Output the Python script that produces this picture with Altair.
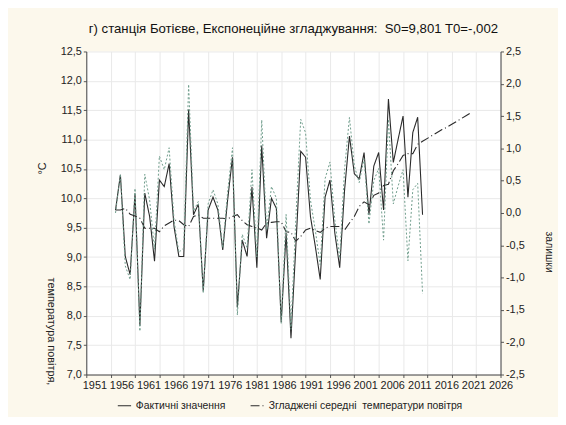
import altair as alt
import pandas as pd

# ---- data ----
years = list(range(1957, 2021))
actual = [9.80, 10.40, 9.01, 8.70, 10.08, 7.83, 10.09, 9.69, 8.93, 10.31,
          10.20, 10.59, 9.52, 9.01, 9.01, 11.51, 9.72, 9.90, 8.42, 9.80,
          10.02, 9.80, 9.12, 9.97, 10.70, 8.14, 9.29, 9.01, 10.19, 8.82,
          10.90, 9.32, 10.00, 9.83, 7.89, 9.41, 7.62, 9.18, 10.80, 10.70,
          9.69, 9.18, 8.62, 10.02, 10.31, 9.41, 8.82, 10.14, 11.06, 10.42,
          10.33, 10.78, 9.72, 10.55, 10.78, 9.80, 11.69, 10.61, 11.01, 11.40,
          10.02, 11.12, 11.38, 9.72]
smoothed = [9.80, 9.80, 9.83, 9.73, 9.70, 9.66, 9.49, 9.49, 9.49, 9.43,
            9.53, 9.58, 9.63, 9.62, 9.55, 9.52, 9.69, 9.72, 9.66, 9.66,
            9.66, 9.66, 9.66, 9.65, 9.69, 9.72, 9.62, 9.55, 9.52, 9.50,
            9.46, 9.58, 9.59, 9.60, 9.60, 9.43, 9.42, 9.27, 9.35, 9.46,
            9.49, 9.45, 9.42, 9.49, 9.52, 9.52, 9.52, 9.46, 9.58, 9.69,
            9.86, 9.94, 9.89, 10.05, 10.09, 10.22, 10.24, 10.47, 10.59, 10.73,
            10.76, 10.76, 10.92, 10.97]
forecast_years = list(range(2021, 2031))
forecast = [11.02, 11.07, 11.12, 11.17, 11.21, 11.26, 11.31, 11.36, 11.41, 11.46]
residuals = [0.00, 0.60, -0.82, -1.03, 0.38, -1.83, 0.60, 0.20, -0.56, 0.88,
             0.67, 1.01, -0.11, -0.61, -0.54, 1.99, 0.03, 0.18, -1.24, 0.14,
             0.36, 0.14, -0.54, 0.32, 1.01, -1.58, -0.33, -0.54, 0.67, -0.68,
             1.44, -0.26, 0.41, 0.23, -1.71, -0.02, -1.80, -0.09, 1.45, 1.24,
             0.20, -0.27, -0.80, 0.53, 0.79, -0.11, -0.70, 0.68, 1.48, 0.73,
             0.47, 0.84, -0.17, 0.50, 0.69, -0.42, 1.45, 0.14, 0.42, 0.67,
             -0.74, 0.36, 0.46, -1.25]
label_years = [1951, 1956, 1961, 1966, 1971, 1976, 1981, 1986, 1991, 1996,
               2001, 2006, 2011, 2016, 2021, 2026]
grid_years = [1951, 1956, 1961, 1966, 1971, 1976, 1981, 1986, 1991, 1996,
              2001, 2006, 2011, 2016, 2021, 2026, 2031, 2036]
left_ticks = [7.0, 7.5, 8.0, 8.5, 9.0, 9.5, 10.0, 10.5, 11.0, 11.5, 12.0, 12.5]
right_ticks = [-2.5, -2.0, -1.5, -1.0, -0.5, 0.0, 0.5, 1.0, 1.5, 2.0, 2.5]

S1 = "Фактичні значення"
S2 = "Згладжені середні\u00a0 температури повітря"

lines_df = pd.DataFrame({
    "year": years + years + forecast_years,
    "value": actual + smoothed + forecast,
    "series": [S1] * len(years) + [S2] * (len(years) + len(forecast_years)),
})
res_df = pd.DataFrame({"year": years, "resid": residuals})
lab_df = pd.DataFrame({"year": label_years})
deg_df = pd.DataFrame({"t": ["°C"]})

FONT = "Liberation Sans"
fmt = "replace(replace(format(datum.value, '.1f'), '.', ','), '\u2212', '-')"

x_scale = alt.Scale(domain=[1951, 2036], nice=False, zero=False)

lines = alt.Chart(lines_df).mark_line(color="#2a2a2a", strokeWidth=1.1).encode(
    x=alt.X("year:Q", scale=x_scale,
            axis=alt.Axis(values=grid_years, labels=False, title=None, grid=True,
                          gridColor="#e9e9e9", tickColor="#555", tickSize=3,
                          domainColor="#444")),
    y=alt.Y("value:Q", scale=alt.Scale(domain=[7, 12.5], nice=False, zero=False),
            axis=alt.Axis(values=left_ticks, labelExpr=fmt, labelFlush=False,
                          labelFontSize=11, labelFont=FONT, labelColor="#222",
                          labelPadding=2, tickSize=3, tickColor="#555",
                          domainColor="#444", gridColor="#e9e9e9",
                          title="температура повітря,", titleAngle=90,
                          titleFont=FONT, titleFontSize=11, titleFontWeight="normal",
                          titleColor="#222", titleX=-36, titleY=282,
                          titleAlign="center", titleBaseline="middle")),
    strokeDash=alt.StrokeDash(
        "series:N",
        scale=alt.Scale(domain=[S1, S2], range=[[1, 0], [9, 3, 1, 3]]),
        legend=alt.Legend(title=None, orient="none", direction="horizontal",
                          legendX=31, legendY=350, symbolType="stroke",
                          symbolStrokeColor="#2a2a2a", symbolStrokeWidth=1.1,
                          symbolSize=180, labelFont=FONT, labelFontSize=10.5,
                          labelColor="#222", columnPadding=22, labelOffset=4,
                          labelLimit=0)),
)

resid = alt.Chart(res_df).mark_line(color="#6f9d8c", strokeWidth=1, strokeDash=[2, 2]).encode(
    x=alt.X("year:Q", scale=x_scale, axis=None),
    y=alt.Y("resid:Q", scale=alt.Scale(domain=[-2.5, 2.5], nice=False, zero=False),
            axis=alt.Axis(orient="right", values=right_ticks, labelExpr=fmt,
                          labelFlush=False, grid=False, labelFontSize=11,
                          labelFont=FONT, labelColor="#222", labelPadding=2,
                          tickSize=3, tickColor="#555", domainColor="#444",
                          title="залишки", titleAngle=90, titleFont=FONT,
                          titleFontSize=10.5, titleFontWeight="normal",
                          titleColor="#222", titleX=48, titleY=202,
                          titleAlign="center", titleBaseline="middle")),
)

labs = alt.Chart(lab_df).mark_point(opacity=0).encode(
    x=alt.X("year:Q", scale=alt.Scale(domain=[1949.5, 2026], nice=False, zero=False),
            axis=alt.Axis(orient="bottom", values=label_years, format="d", title=None,
                          ticks=False, domain=False, grid=False, labelFlush=False,
                          labelOverlap=False, labelFontSize=11, labelFont=FONT,
                          labelColor="#222", labelPadding=5)),
)

deg = alt.Chart(deg_df).mark_text(angle=270, font=FONT, fontSize=11, color="#222").encode(
    text="t:N", x=alt.value(-44), y=alt.value(118))

chart = alt.layer(lines, resid, labs, deg).resolve_scale(
    x="independent", y="independent"
).properties(
    width=418, height=326,
    background="#fcf8ec",
    padding={"left": 79, "top": 42, "right": 58, "bottom": 41},
    autosize=alt.AutoSizeParams(type="none"),
    title=alt.Title("г) станція Ботієве, Експонеційне згладжування:\u00a0 S0=9,801 T0=-,002",
                    font=FONT, fontSize=13.3, fontWeight="normal", color="#111",
                    anchor="middle", offset=10),
).configure_view(fill="white", stroke=None)

chart.save("out.html", embed_options={"renderer": "svg", "actions": False})
